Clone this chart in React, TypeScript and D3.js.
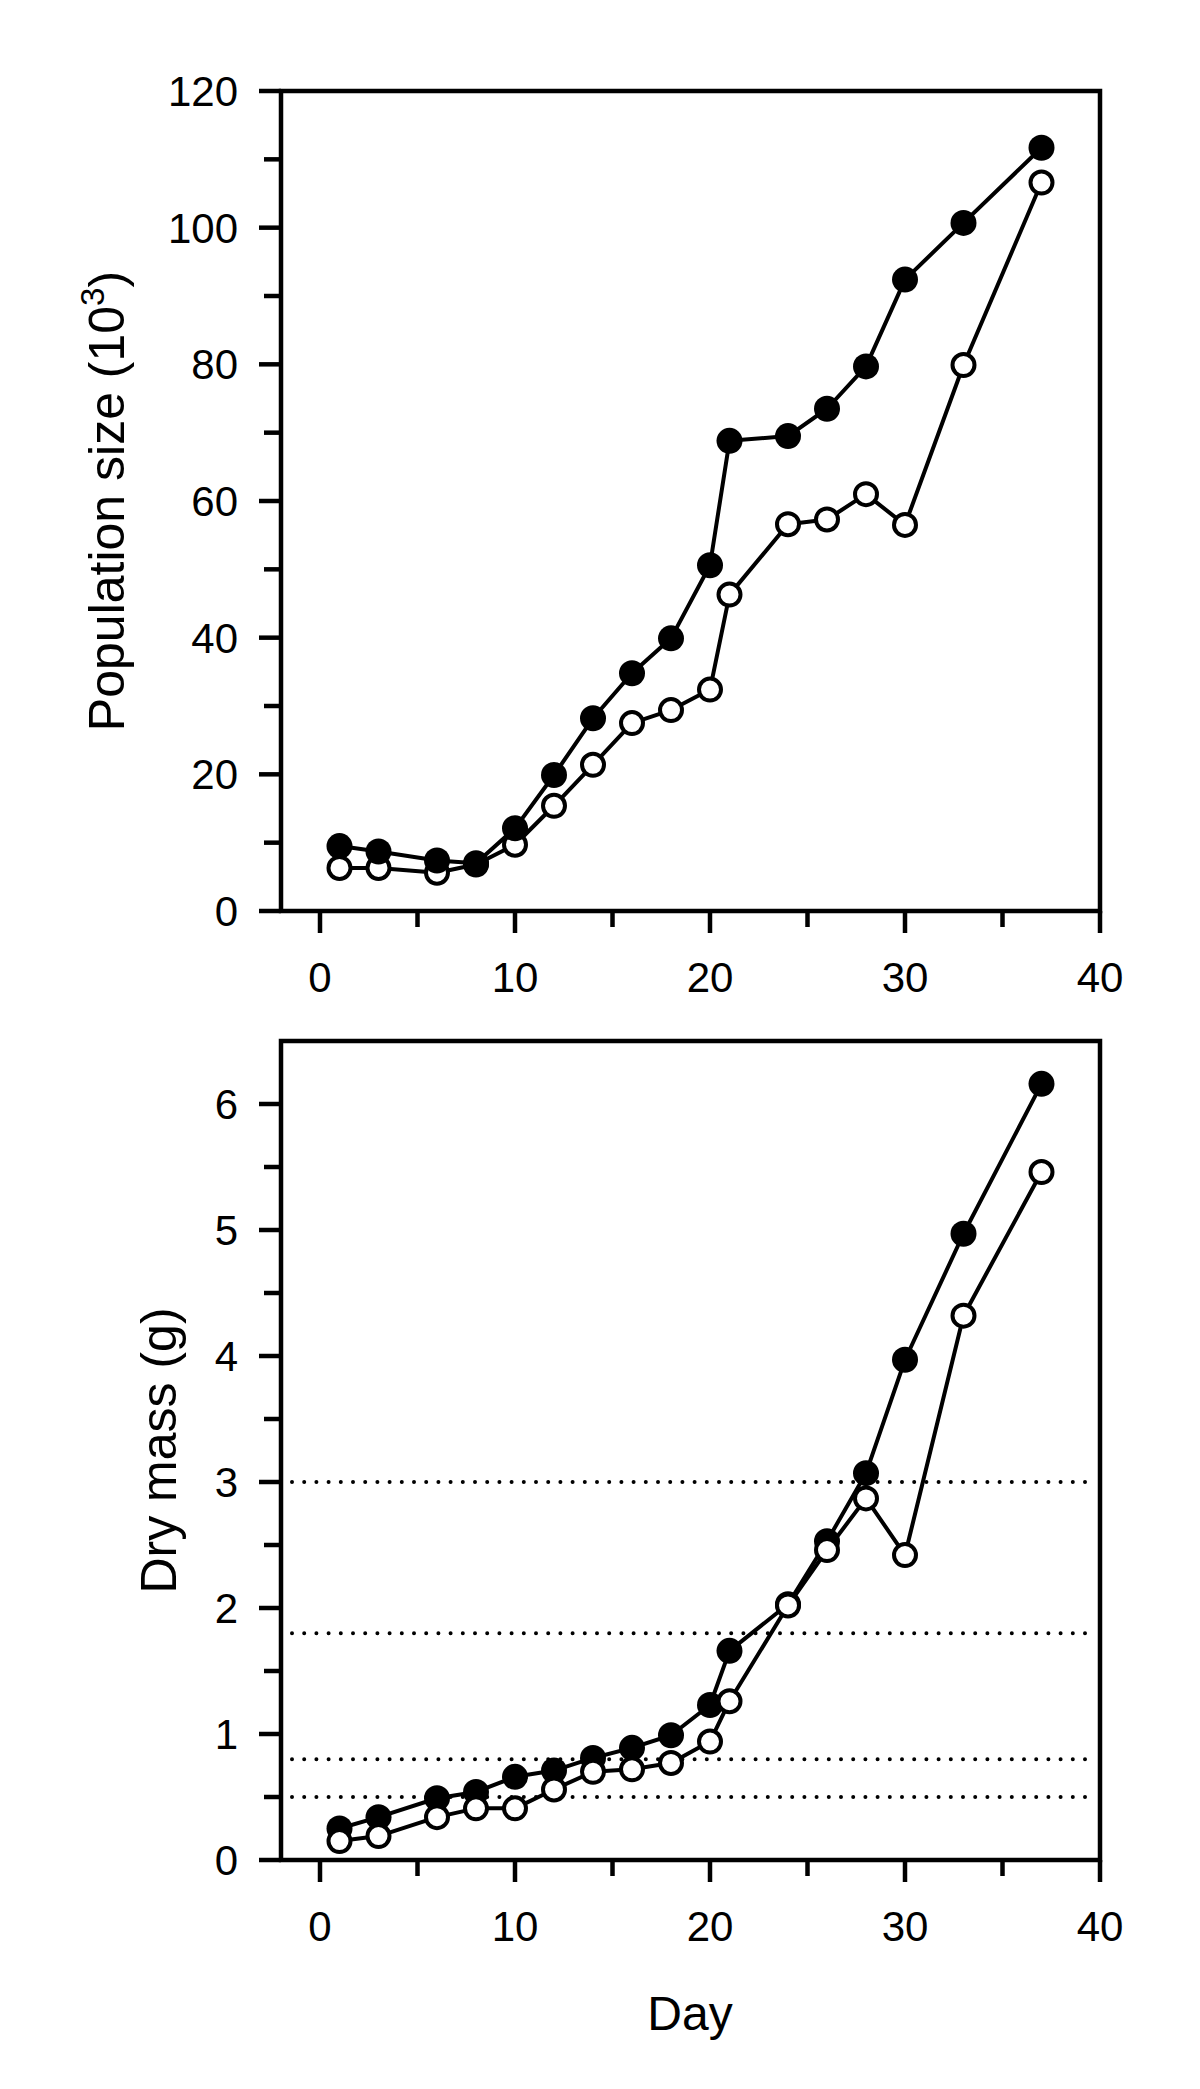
import * as d3 from 'd3';

const days = [1, 3, 6, 8, 10, 12, 14, 16, 18, 20, 21, 24, 26, 28, 30, 33, 37];

// population size (10^3)
const popFilled = [9.5, 8.7, 7.4, 7.0, 12.1, 19.9, 28.2, 34.8, 39.9, 50.6, 68.8, 69.5, 73.5, 79.7, 92.4, 100.7, 111.7];
const popOpen = [6.3, 6.3, 5.6, 6.8, 9.7, 15.4, 21.4, 27.5, 29.4, 32.4, 46.3, 56.6, 57.3, 61.0, 56.5, 79.9, 106.6];

// dry mass (g)
const massFilled = [0.25, 0.34, 0.49, 0.54, 0.66, 0.71, 0.81, 0.89, 0.99, 1.23, 1.66, 2.03, 2.53, 3.07, 3.97, 4.97, 6.16];
const massOpen = [0.15, 0.19, 0.34, 0.41, 0.41, 0.56, 0.7, 0.72, 0.77, 0.94, 1.26, 2.02, 2.46, 2.87, 2.42, 4.32, 5.46];

const massRefLines = [3, 1.8, 0.8, 0.5];

const xTicks = [0, 5, 10, 15, 20, 25, 30, 35, 40];
const popTicks = d3.range(0, 121, 10);
const massTicks = d3.range(0, 6.01, 0.5);

const FONT = 'Liberation Sans, Arial, Helvetica, sans-serif';
const left = 281;
const right = 1100;

type PanelProps = {
  top: number;
  bottom: number;
  yMax: number;
  yTicks: number[];
  isMajor: (v: number) => boolean;
  filled: number[];
  open: number[];
  openOnTop: boolean;
  refLines?: number[];
  title: React.ReactNode;
  titleX: number;
};

function Panel({ top, bottom, yMax, yTicks, isMajor, filled, open, openOnTop, refLines = [], title, titleX }: PanelProps) {
  const x = d3.scaleLinear().domain([-2, 40]).range([left, right]);
  const y = d3.scaleLinear().domain([0, yMax]).range([bottom, top]);
  const line = d3
    .line<number>()
    .x((_, i) => x(days[i]))
    .y((d) => y(d));

  const series = (vals: number[], isOpen: boolean) => (
    <g key={isOpen ? 'open' : 'filled'}>
      <path d={line(vals) ?? ''} fill="none" stroke="#000" strokeWidth={4} strokeLinejoin="round" />
      {vals.map((v, i) => (
        <circle
          key={i}
          cx={x(days[i])}
          cy={y(v)}
          r={isOpen ? 11 : 13}
          fill={isOpen ? '#fff' : '#000'}
          stroke="#000"
          strokeWidth={isOpen ? 4 : 0}
        />
      ))}
    </g>
  );

  const order = openOnTop ? [series(filled, false), series(open, true)] : [series(open, true), series(filled, false)];

  return (
    <g fontFamily={FONT}>
      {refLines.map((v) => (
        <line
          key={v}
          x1={left + 11}
          x2={right - 10}
          y1={y(v)}
          y2={y(v)}
          stroke="#000"
          strokeWidth={4}
          strokeLinecap="round"
          strokeDasharray="0 12.2"
        />
      ))}

      {/* frame */}
      <rect x={left} y={top} width={right - left} height={bottom - top} fill="none" stroke="#000" strokeWidth={4.5} />

      {/* y axis */}
      {yTicks.map((t) => {
        const major = isMajor(t);
        return (
          <g key={t}>
            <line x1={left - (major ? 22 : 17)} x2={left} y1={y(t)} y2={y(t)} stroke="#000" strokeWidth={4.5} />
            {major && (
              <text x={238} y={y(t)} dy="0.36em" textAnchor="end" fontSize={42}>
                {d3.format('~g')(t)}
              </text>
            )}
          </g>
        );
      })}

      {/* x axis */}
      {xTicks.map((t) => {
        const major = t % 10 === 0;
        return (
          <g key={t}>
            <line x1={x(t)} x2={x(t)} y1={bottom} y2={bottom + (major ? 22 : 16)} stroke="#000" strokeWidth={4.5} />
            {major && (
              <text x={x(t)} y={bottom + 81} textAnchor="middle" fontSize={42}>
                {t}
              </text>
            )}
          </g>
        );
      })}

      <text
        transform={`translate(${titleX},${(top + bottom) / 2}) rotate(-90)`}
        textAnchor="middle"
        fontSize={50}
      >
        {title}
      </text>

      {order}
    </g>
  );
}

export default function App() {
  return (
    <svg
      width={1200}
      height={2089}
      viewBox="0 0 1200 2089"
      style={{ position: 'absolute', left: 0, top: 0, background: '#fff' }}
    >
      <rect width={1200} height={2089} fill="#fff" />
      <Panel
        top={91}
        bottom={911}
        yMax={120}
        yTicks={popTicks}
        isMajor={(v) => v % 20 === 0}
        filled={popFilled}
        open={popOpen}
        openOnTop={false}
        titleX={124}
        title={
          <>
            Population size (10
            <tspan fontSize={33} dy={-20}>
              3
            </tspan>
            <tspan dy={20}>)</tspan>
          </>
        }
      />
      <Panel
        top={1041}
        bottom={1860}
        yMax={6.5}
        yTicks={massTicks}
        isMajor={(v) => Number.isInteger(v)}
        filled={massFilled}
        open={massOpen}
        openOnTop={true}
        refLines={massRefLines}
        titleX={176}
        title="Dry mass (g)"
      />
      <text x={690} y={2030} textAnchor="middle" fontSize={48} fontFamily={FONT}>
        Day
      </text>
    </svg>
  );
}
